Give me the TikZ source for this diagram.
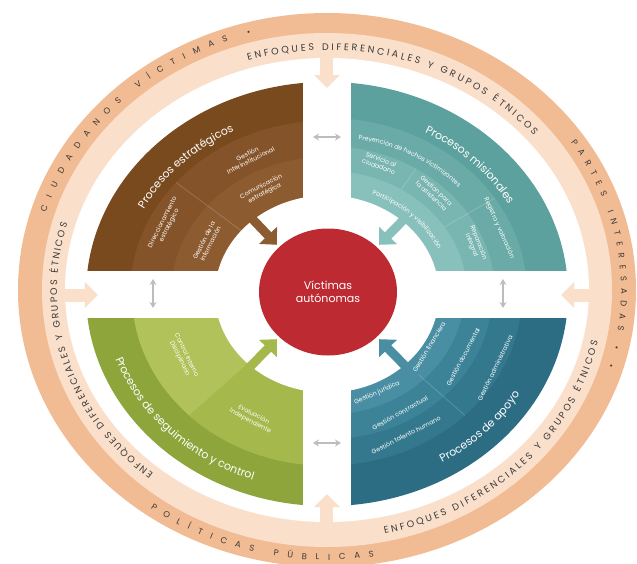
\documentclass[tikz,border=0pt]{standalone}
\usepackage{fontspec}
\setmainfont{Poppins}
\usetikzlibrary{positioning,shapes.geometric,arrows.meta,decorations.text}
\definecolor{ringDark}{HTML}{F1BB93}
\definecolor{ringPale}{HTML}{FADFCB}
\definecolor{ringInk}{HTML}{3A3A3A}
\definecolor{linkGray}{HTML}{BDBDBD}
\definecolor{brownA}{HTML}{7A4A1F}
\definecolor{brownB}{HTML}{84532A}
\definecolor{brownC}{HTML}{8D5B30}
\definecolor{tealA}{HTML}{5DA19E}
\definecolor{tealB}{HTML}{6BABA7}
\definecolor{tealC}{HTML}{79B5B1}
\definecolor{tealD}{HTML}{88C0BC}
\definecolor{blueA}{HTML}{2C6D84}
\definecolor{blueB}{HTML}{34788E}
\definecolor{blueC}{HTML}{3D8398}
\definecolor{blueD}{HTML}{498EA2}
\definecolor{greenA}{HTML}{8DA53A}
\definecolor{greenB}{HTML}{B1C25A}
\definecolor{greenC}{HTML}{A5B84C}
\definecolor{redCore}{HTML}{BE2A32}
\def\gap{24}
\newcommand{\ringfont}{\fontsize{8.5}{9}\selectfont}
\newcommand{\bandfont}{\fontsize{9.5}{10}\selectfont}
\newcommand{\titlefont}{\fontsize{11}{12}\selectfont}
\newcommand{\smallfont}{\fontsize{6.3}{7.4}\selectfont}
\tikzstyle{qarrow}=[line width=9pt,shorten >=3pt,-{Triangle[length=13pt,width=24pt]}]
\tikzstyle{ringarrow}=[ringPale,line width=13pt,-{Triangle[length=13pt,width=25pt]}]
\tikzstyle{link}=[linkGray,line width=2pt,{Stealth[length=6pt,width=7pt]}-{Stealth[length=6pt,width=7pt]}]
\tikzstyle{divline}=[white,opacity=0.18,line width=0.8pt]
\tikzstyle{lbl}=[text=white,font=\smallfont,align=center,inner sep=0pt]
\newcommand{\arcText}[7]{\path[decorate,decoration={text along path,text align={#1},
    text={|#6|#7}}] (#2:#4pt and #5pt) arc[start angle=#2,end angle=#3,x radius=#4pt,y radius=#5pt];}
\newcommand{\quadBand}[2]{\fill[#2] (0,0) ellipse[x radius=#1pt,y radius=0.88*#1pt];}

\begin{document}
\begin{tikzpicture}[x=1pt,y=1pt]
  \useasboundingbox (-327,-269) rectangle (310,294);
  % ring
  \begin{scope}[yshift=4pt]
    \fill[ringDark] (0,0) ellipse[x radius=309pt,y radius=277pt];
    \fill[ringPale] (0,0) ellipse[x radius=285pt,y radius=257pt];
    \fill[white] (0,0) ellipse[x radius=262pt,y radius=232pt];
    \arcText{fit to path}{163}{105}{294}{264}{\ringfont\color{ringInk}}{CIUDADANOS VÍCTIMAS •}
    \arcText{fit to path}{34}{-17}{294}{264}{\ringfont\color{ringInk}}{PARTES INTERESADAS • •}
    \arcText{fit to path}{234}{279}{300}{270}{\ringfont\color{ringInk}}{POLÍTICAS PÚBLICAS}
    \arcText{fit to path}{107}{40}{270}{240}{\bandfont\color{ringInk}}{ENFOQUES DIFERENCIALES Y GRUPOS ÉTNICOS}
    \arcText{fit to path}{230}{164}{270}{240}{\bandfont\color{ringInk}}{ENFOQUES DIFERENCIALES Y GRUPOS ÉTNICOS}
    \arcText{fit to path}{282}{348}{277}{249}{\bandfont\color{ringInk}}{ENFOQUES DIFERENCIALES Y GRUPOS ÉTNICOS}
  \end{scope}
  \coordinate (eTop) at (0,239);     \coordinate (eTopTip) at (0,206);
  \coordinate (eLeft) at (-265,-1);  \coordinate (eLeftTip) at (-229,-1);
  \coordinate (eRight) at (266,-1);  \coordinate (eRightTip) at (234,-1);
  \coordinate (eBot) at (0,-231);    \coordinate (eBotTip) at (0,-200);
  \draw[ringarrow] (eTop) -- (eTopTip);
  \draw[ringarrow] (eLeft) -- (eLeftTip);
  \draw[ringarrow] (eRight) -- (eRightTip);
  \draw[ringarrow] (eBot) -- (eBotTip);
  % quadrants
  \begin{scope}
    \clip (-\gap,\gap) rectangle (-300,300);
    \foreach \rad/\col in {241/brownA,197/brownB,156/brownC,112/white} {\quadBand{\rad}{\col}}
    \draw[divline] (140:112pt and 98.6pt) -- (140:197pt and 173.4pt);
  \end{scope}
  \begin{scope}
    \clip (\gap,\gap) rectangle (300,300);
    \foreach \rad/\col in {241/tealA,200/tealB,168/tealC,140/tealD,112/white} {\quadBand{\rad}{\col}}
    \draw[divline] (58:140pt and 123.2pt) -- (58:168pt and 147.8pt);
    \draw[divline] (33:140pt and 123.2pt) -- (33:200pt and 176pt);
  \end{scope}
  \begin{scope}
    \clip (-\gap,-\gap) rectangle (-300,-300);
    \quadBand{241}{greenA}\quadBand{195}{greenB}
    \fill[greenC] (0,0) -- (225:195pt and 171.6pt) arc[start angle=225,end angle=270,x radius=195pt,y radius=171.6pt] -- cycle;
    \quadBand{112}{white}
  \end{scope}
  \begin{scope}
    \clip (\gap,-\gap) rectangle (300,-300);
    \foreach \rad/\col in {241/blueA,195/blueB,165/blueC,137/blueD,112/white} {\quadBand{\rad}{\col}}
    \draw[divline] (-45:112pt and 98.6pt) -- (-45:195pt and 171.6pt);
  \end{scope}
  % centre
  \node[ellipse,fill=redCore,minimum width=138pt,minimum height=127pt,text=white,
    align=center,font=\fontsize{11}{13}\selectfont] (vict) at (1,2) {Víctimas\\autónomas};
  \coordinate (brT) at (-86,87);
  \coordinate (tlT) at (89,87);
  \coordinate (grT) at (-84,-80);
  \coordinate (blT) at (89,-83);
  \draw[qarrow,brownC] (brT) -- (vict.north west);
  \draw[qarrow,tealD] (tlT) -- (vict.north east);
  \draw[qarrow,greenC] (grT) -- (vict.south west);
  \draw[qarrow,blueD] (blT) -- (vict.south east);
  \coordinate (lkTa) at (-14,157);  \coordinate (lkTb) at (14,157);
  \coordinate (lkBa) at (-14,-149); \coordinate (lkBb) at (14,-149);
  \coordinate (lkLa) at (-174,15);  \coordinate (lkLb) at (-174,-14);
  \coordinate (lkRa) at (176,15);   \coordinate (lkRb) at (176,-14);
  \draw[link] (lkTa) -- (lkTb);
  \draw[link] (lkBa) -- (lkBb);
  \draw[link] (lkLa) -- (lkLb);
  \draw[link] (lkRa) -- (lkRb);
  % titles
  \arcText{center}{165}{105}{207}{182}{\titlefont\color{white}}{Procesos estratégicos}
  \arcText{center}{75}{15}{208}{183}{\titlefont\color{white}}{Procesos misionales}
  \arcText{center}{182}{266}{224}{197}{\titlefont\color{white}}{Procesos de seguimiento y control}
  \arcText{center}{-76}{-12}{224}{197}{\titlefont\color{white}}{Procesos de apoyo}
  \arcText{center}{88}{34}{179}{157}{\smallfont\color{white}}{Prevención de hechos victimizantes}
  \arcText{center}{76}{16}{122}{107}{\smallfont\color{white}}{Participación y visibilización}
  % labels
  \node[lbl,rotate=27] (gInter) at (-78,137) {Gestión\\Interinstitucional};
  \node[lbl,rotate=28] (comEst) at (-64,104) {Comunicación\\estratégica};
  \node[lbl,rotate=63] (dirEst) at (-161,70) {Direccionamiento\\estratégico};
  \node[lbl,rotate=63] (gInfo) at (-120,52) {Gestión de la\\información};
  \node[lbl,rotate=-20] (servC) at (53,131) {Servicio al\\ciudadano};
  \node[lbl,rotate=-43] (gAsis) at (107,101) {Gestión para\\la asistencia};
  \node[lbl,rotate=-66] (regVal) at (172,66) {Registro y valoración};
  \node[lbl,rotate=-69] (repInt) at (148,50) {Reparación\\integral};
  \node[lbl,rotate=24] (gJur) at (50,-99) {Gestión jurídica};
  \node[lbl,rotate=29] (gCon) at (73,-119) {Gestión contractual};
  \node[lbl,rotate=27] (gTal) at (79,-141) {Gestión talento humano};
  \node[lbl,rotate=59] (gFin) at (102,-53) {Gestión financiera};
  \node[lbl,rotate=62] (gDoc) at (136,-63) {Gestión documental};
  \node[lbl,rotate=64] (gAdm) at (168,-74) {Gestión administrativa};
  \node[lbl,rotate=-64] (ctrlInt) at (-144,-63) {Control Interno\\Disciplinario};
  \node[lbl,rotate=-28] (evalInd) at (-75,-124) {Evaluación\\Independiente};
\end{tikzpicture}
\end{document}
